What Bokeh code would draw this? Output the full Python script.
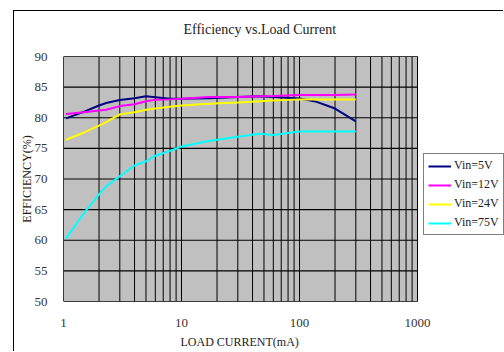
from bokeh.plotting import figure
from bokeh.models import Legend, LegendItem, FixedTicker, Title, PrintfTickFormatter
from bokeh.embed import file_html
from bokeh.resources import INLINE

current_ma = [1.05, 1.5, 2, 2.3, 3, 4, 5, 6, 8, 10, 17, 30, 46, 60, 100, 140, 200, 300]
eff_5v  = [79.9, 81.0, 82.0, 82.4, 82.9, 83.2, 83.5, 83.35, 83.1, 83.1, 83.2, 83.4, 83.5, 83.4, 83.15, 82.6, 81.5, 79.4]
eff_12v = [80.6, 80.9, 81.2, 81.3, 81.9, 82.2, 82.7, 82.95, 83.0, 83.1, 83.4, 83.4, 83.5, 83.55, 83.7, 83.7, 83.7, 83.8]
eff_24v = [76.4, 77.6, 78.7, 79.3, 80.55, 80.9, 81.3, 81.5, 81.8, 82.0, 82.3, 82.5, 82.7, 82.8, 83.0, 83.0, 83.0, 83.0]
eff_75v = [60.3, 64.5, 67.5, 68.8, 70.45, 72.2, 72.9, 73.8, 74.6, 75.3, 76.2, 76.9, 77.4, 77.2, 77.75, 77.75, 77.75, 77.75]
series_names = ["Vin=5V", "Vin=12V", "Vin=24V", "Vin=75V"]
series_colors = ["#000080", "#FF00FF", "#FFFF00", "#00FFFF"]
x_ticks = [1, 10, 100, 1000]
y_ticks = [50, 55, 60, 65, 70, 75, 80, 85, 90]
x_min, x_max = 1, 1000
y_min, y_max = 50, 90
title_text = "Efficiency vs.Load Current"
x_label = "LOAD CURRENT(mA)"
y_label = "EFFICIENCY(%)"

SERIF = "Liberation Serif"
BORDER_L = 49
FRAME_W = 490 - BORDER_L
# plot area is 354 px for 3 decades; the frame extends further right to hold the legend
x_end = x_max * 10 ** ((FRAME_W - 354) / 118)

p = figure(width=490, height=341, x_axis_type="log", x_range=(x_min, x_end), y_range=(y_min, y_max),
           output_backend="svg", toolbar_location=None, title=None,
           min_border_left=BORDER_L, min_border_right=0, min_border_top=45, min_border_bottom=49,
           margin=(10, 0, 0, 13),
           styles={"border-left": "1px solid black", "border-top": "1px solid black"})
p.background_fill_color = "white"
p.border_fill_color = "white"
p.outline_line_color = None
p.xgrid.visible = False
p.ygrid.visible = False

# title: a spacer nearest the plot area, then the visible title above it
p.add_layout(Title(text=" ", standoff=17, text_font_size="1px"), "above")
p.add_layout(Title(text=title_text, align="left", offset=120, standoff=0,
                   text_font=SERIF, text_font_size="14px", text_font_style="normal",
                   text_color="#222222"), "above")

# grey plot area
p.quad(left=[x_min], right=[x_max], bottom=[y_min], top=[y_max], fill_color="#C0C0C0", line_color=None)

# grid lines (log decades with 2..9 subdivisions, and y ticks)
xg = [m * 10 ** d for d in range(0, 3) for m in range(1, 10)] + [x_max]
p.segment(x0=xg, x1=xg, y0=[y_min] * len(xg), y1=[y_max] * len(xg), line_color="black", line_width=1)
p.segment(x0=[x_min] * len(y_ticks), x1=[x_max] * len(y_ticks), y0=y_ticks, y1=y_ticks,
          line_color="black", line_width=1.2)
p.quad(left=[x_min], right=[x_max], bottom=[y_min], top=[y_max], fill_color=None,
       line_color="black", line_width=1)

renderers = []
for vals, col in zip([eff_5v, eff_12v, eff_24v, eff_75v], series_colors):
    r = p.line(current_ma, vals, line_color=col, line_width=2)
    renderers.append(r)

p.xaxis.ticker = FixedTicker(ticks=x_ticks, minor_ticks=[])
p.xaxis.formatter = PrintfTickFormatter(format="%d")
p.xaxis.bounds = (x_min, x_max)
p.yaxis.ticker = FixedTicker(ticks=y_ticks, minor_ticks=[])

for ax in (p.xaxis, p.yaxis):
    ax.axis_line_color = None
    ax.major_tick_line_color = None
    ax.minor_tick_line_color = None
    ax.major_label_text_font = SERIF
    ax.major_label_text_font_size = "13px"
    ax.major_label_text_color = "#333333"
    ax.axis_label_text_font = SERIF
    ax.axis_label_text_font_size = "12px"
    ax.axis_label_text_font_style = "normal"
    ax.axis_label_text_color = "#222222"

p.xaxis.major_label_standoff = 11
p.yaxis.major_label_standoff = 10
p.yaxis.axis_label = y_label
p.yaxis.axis_label_standoff = -2

# x-axis label centred under the grey plot area (not the wider frame)
p.add_layout(Title(text=x_label, align="left", offset=117, standoff=7,
                   text_font=SERIF, text_font_size="12px", text_font_style="normal",
                   text_color="#222222"), "below")

legend = Legend(items=[LegendItem(label=n, renderers=[r]) for n, r in zip(series_names, renderers)],
                location=(423 - 14 - BORDER_L, 66), orientation="vertical",
                border_line_color="black", border_line_width=1,
                background_fill_color="white", background_fill_alpha=1,
                label_text_font=SERIF, label_text_font_size="12px", label_text_color="#222222",
                glyph_width=23, glyph_height=14, label_height=14, spacing=4,
                padding=4, margin=0, label_standoff=3)
p.add_layout(legend, "center")

open("out.html", "w").write(file_html(p, INLINE))
